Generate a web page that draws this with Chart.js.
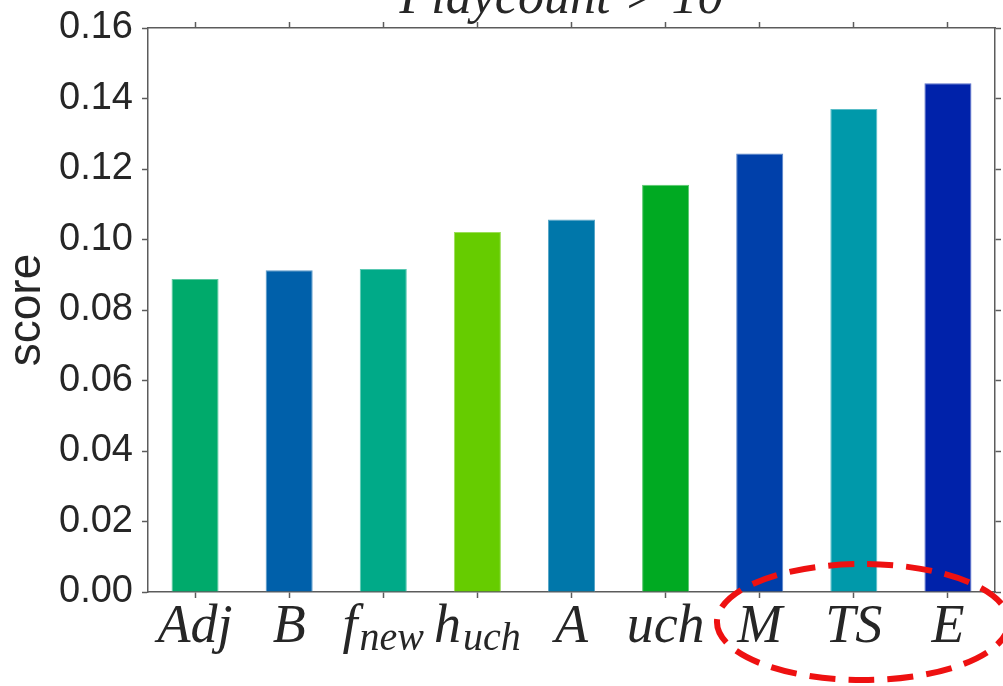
<!DOCTYPE html>
<html>
<head>
<meta charset="utf-8">
<script src="https://cdn.jsdelivr.net/npm/chart.js@4.4.1/dist/chart.umd.min.js"></script>
<style>
  html, body { margin: 0; padding: 0; background: #fff; overflow: hidden; }
  canvas { display: block; }
</style>
</head>
<body>
<canvas id="chart" width="1003" height="686"></canvas>
<script>
// categories: "_" marks a subscript part
const categories = ['Adj', 'B', 'f_new', 'h_uch', 'A', 'uch', 'M', 'TS', 'E'];
const scores = [0.0888, 0.0913, 0.0916, 0.1021, 0.1057, 0.1155, 0.1244, 0.1370, 0.1443];
const barColors = ['#00aa6b', '#0060aa', '#00aa88', '#66cc00', '#0077aa', '#00aa22', '#0040aa', '#0099aa', '#0022aa'];
const yTicks = [0, 0.02, 0.04, 0.06, 0.08, 0.10, 0.12, 0.14, 0.16];
const titleText = 'Playcount > 10';
const highlighted = ['M', 'TS', 'E'];

const axisColor = '#5c5c5c';
const textColor = '#262626';

function lighten(hex, amt) {
    var n = parseInt(hex.slice(1), 16);
    var r = (n >> 16) & 255, g = (n >> 8) & 255, b = n & 255;
    r = Math.round(r + (255 - r) * amt);
    g = Math.round(g + (255 - g) * amt);
    b = Math.round(b + (255 - b) * amt);
    return 'rgb(' + r + ',' + g + ',' + b + ')';
}

// title, math-style x labels and the red dashed ring
const extras = {
    id: 'extras',
    afterDraw(chart) {
        const ctx = chart.ctx;
        const area = chart.chartArea;
        const xs = chart.scales.x;
        ctx.save();

        // title (cut by the top edge, like the original)
        ctx.fillStyle = textColor;
        ctx.font = 'italic 52px "Liberation Serif"';
        ctx.textAlign = 'center';
        ctx.textBaseline = 'alphabetic';
        ctx.fillText(titleText, (area.left + area.right) / 2 - 10, area.top - 15);

        // x labels with subscripts
        const base = area.bottom + 50;
        categories.forEach((lab, i) => {
            const parts = lab.split('_');
            const main = parts[0], sub = parts[1] || '';
            ctx.font = 'italic 54px "Liberation Serif"';
            const wMain = ctx.measureText(main).width;
            ctx.font = 'italic 40px "Liberation Serif"';
            const wSub = sub ? ctx.measureText(sub).width + 2 : 0;
            const cx = xs.getPixelForValue(i);
            let x = cx - (wMain + wSub) / 2;
            ctx.textAlign = 'left';
            ctx.font = 'italic 54px "Liberation Serif"';
            ctx.fillText(main, x, base);
            if (sub) {
                ctx.font = 'italic 40px "Liberation Serif"';
                ctx.fillText(sub, x + wMain + 2, base + 8);
            }
        });

        // dashed ellipse around the highlighted categories
        const i0 = categories.indexOf(highlighted[0]);
        const i1 = categories.indexOf(highlighted[highlighted.length - 1]);
        const p0 = xs.getPixelForValue(i0), p1 = xs.getPixelForValue(i1);
        const step = (p1 - p0) / (i1 - i0);
        ctx.beginPath();
        ctx.ellipse((p0 + p1) / 2 + 9, area.bottom + 30, (p1 - p0) / 2 + step * 0.55, 58, 0, 0, Math.PI * 2);
        ctx.setLineDash([26, 13]);
        ctx.lineWidth = 6;
        ctx.strokeStyle = '#ee1111';
        ctx.stroke();
        ctx.restore();
    }
};

const tickGrid = {
    display: true,
    drawOnChartArea: false,
    drawTicks: true,
    tickLength: 6,
    tickWidth: 1.5,
    tickColor: axisColor,
    color: axisColor,
    offset: false
};
const axisBorder = { display: true, color: axisColor, width: 1.5 };

function fixBox(w, h) {
    return function (s) {
        if (w !== null) s.width = w;
        if (h !== null) s.height = h;
        s.paddingTop = 0;
        s.paddingBottom = 0;
        s.paddingLeft = 0;
        s.paddingRight = 0;
    };
}

new Chart(document.getElementById('chart'), {
    type: 'bar',
    data: {
        labels: categories,
        datasets: [{
            label: 'score',
            data: scores,
            backgroundColor: barColors,
            borderColor: barColors.map(c => lighten(c, 0.35)),
            borderWidth: 1,
            borderSkipped: 'bottom',
            barPercentage: 0.5,
            categoryPercentage: 1.0
        }]
    },
    plugins: [extras],
    options: {
        responsive: false,
        devicePixelRatio: 1,
        animation: false,
        layout: { padding: 0 },
        plugins: {
            legend: { display: false },
            tooltip: { enabled: false },
            title: { display: false }
        },
        scales: {
            x: {
                type: 'category',
                position: 'bottom',
                offset: true,
                grid: tickGrid,
                border: axisBorder,
                ticks: { display: false },
                afterFit: fixBox(null, 94)
            },
            x2: {
                type: 'category',
                position: 'top',
                labels: categories,
                offset: true,
                grid: tickGrid,
                border: axisBorder,
                ticks: { display: false },
                afterFit: fixBox(null, 28)
            },
            y: {
                type: 'linear',
                position: 'left',
                min: 0,
                max: 0.16,
                grid: tickGrid,
                border: axisBorder,
                afterBuildTicks(s) { s.ticks = yTicks.map(v => ({ value: v })); },
                ticks: {
                    padding: 9,
                    color: textColor,
                    font: { family: '"Liberation Sans", Arial, sans-serif', size: 38 },
                    callback: v => v.toFixed(2)
                },
                title: {
                    display: true,
                    text: 'score',
                    color: textColor,
                    padding: { top: 0, bottom: 0 },
                    font: { family: '"Liberation Sans", Arial, sans-serif', size: 46 }
                },
                afterFit: fixBox(148, null)
            },
            y2: {
                type: 'linear',
                position: 'right',
                min: 0,
                max: 0.16,
                grid: tickGrid,
                border: axisBorder,
                afterBuildTicks(s) { s.ticks = yTicks.map(v => ({ value: v })); },
                ticks: { display: false },
                afterFit: fixBox(8, null)
            }
        }
    }
});
</script>
</body>
</html>
